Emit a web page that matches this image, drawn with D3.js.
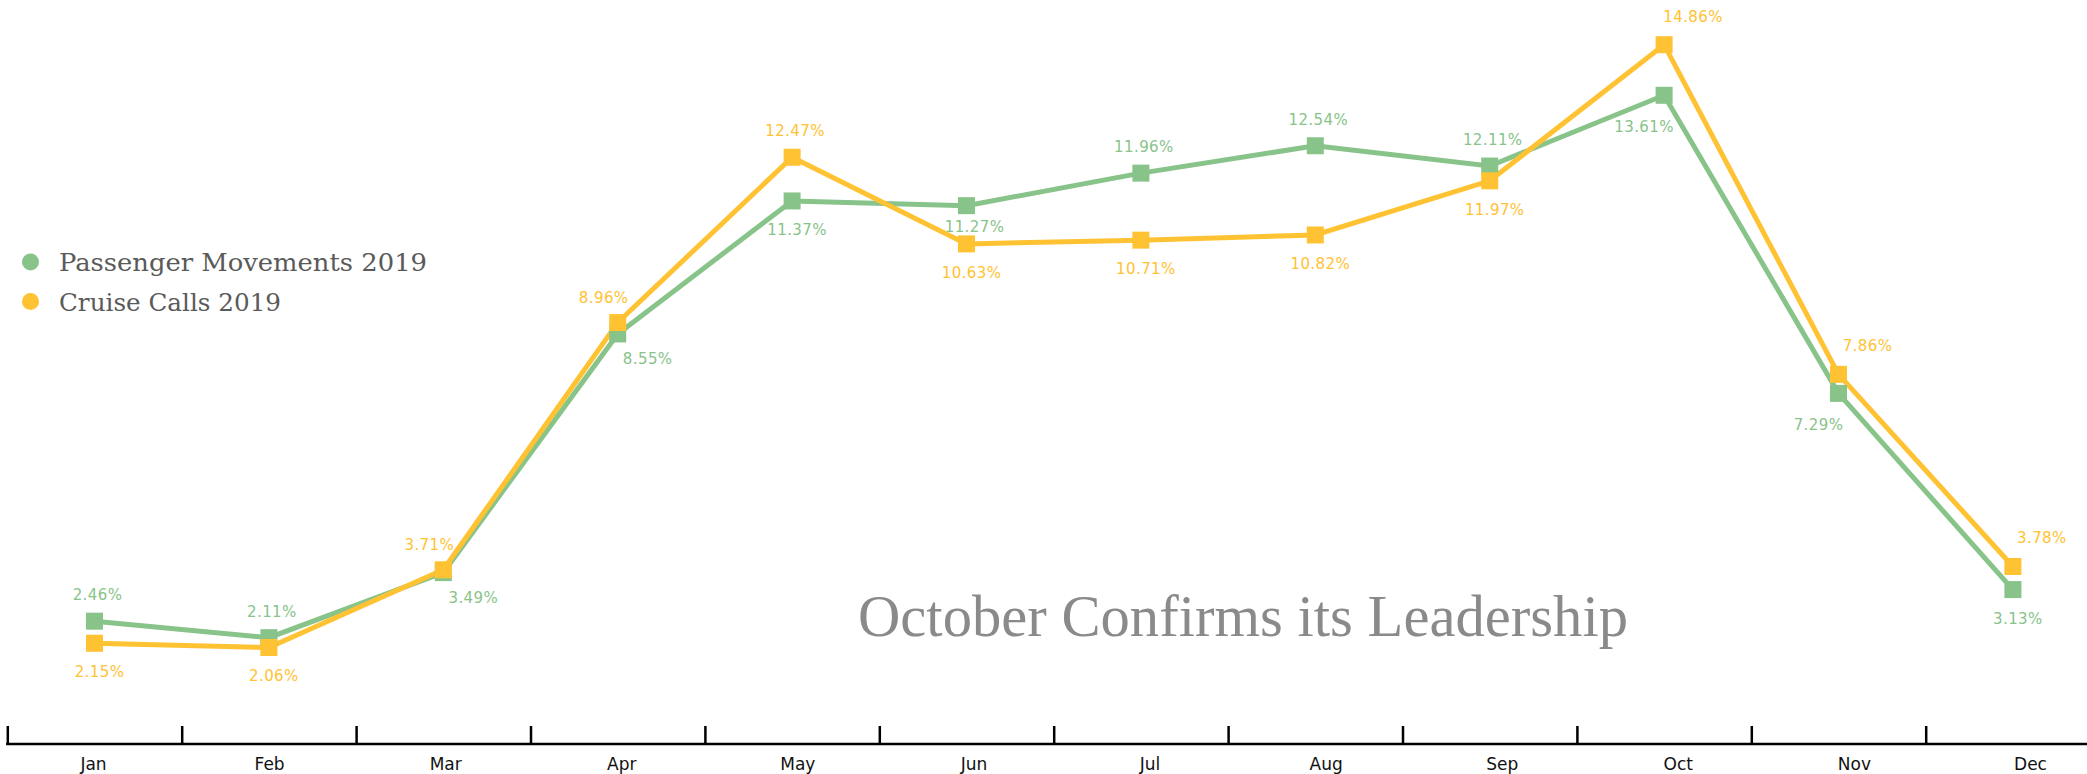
<!DOCTYPE html>
<html>
<head>
<meta charset="utf-8">
<script src="https://cdn.jsdelivr.net/npm/d3@7"></script>
<style>
  html, body { margin: 0; padding: 0; background: #ffffff; }
  svg { display: block; }
</style>
</head>
<body>
<svg id="chart" width="2087" height="774"></svg>
<script>
// ---- data ----
const months = ["Jan","Feb","Mar","Apr","May","Jun","Jul","Aug","Sep","Oct","Nov","Dec"];
const passengerMovements = [2.46, 2.11, 3.49, 8.55, 11.37, 11.27, 11.96, 12.54, 12.11, 13.61, 7.29, 3.13];
const cruiseCalls        = [2.15, 2.06, 3.71, 8.96, 12.47, 10.63, 10.71, 10.82, 11.97, 14.86, 7.86, 3.78];
const seriesNames = ["Passenger Movements 2019", "Cruise Calls 2019"];
const passengerLabelSide = ["a","a","br","br","b","bs","a","a","a","bl","bl","b"];
const cruiseLabelSide    = ["b","b","al","al","a","b","b","b","b","ar","ar","ar"];
const title = "October Confirms its Leadership";

// ---- styles ----
const GREEN = "#88C38A";
const ORANGE = "#FFC233";
const svg = d3.select("#chart");
const W = 2087, H = 774;

// ---- scales ----
const bandStart = 7.3, step = 174.4;
const x = d3.scaleBand().domain(months).range([bandStart, bandStart + step * months.length]).padding(0);
const xEdge = d3.scaleLinear().domain([0, months.length]).range([bandStart, bandStart + step * months.length]);
const xLabel = d3.scalePoint().domain(months).range([93, 2030]);
const cx = m => x(m) + x.bandwidth() / 2;

const yCruise = d3.scaleLinear().domain([0, d3.max(cruiseCalls)]).range([744.5, 44.7]);
const yPass = d3.scaleLinear().domain([0, d3.max(passengerMovements)]).range([737.2, 95.3]);

// ---- axis ----
const axisY = 744;
const gAxis = svg.append("g").attr("transform", `translate(0,${axisY})`);
gAxis.call(d3.axisBottom(xEdge).tickValues(d3.range(0, months.length + 1)).tickSize(-18).tickSizeOuter(0).tickFormat(""));
gAxis.select(".domain").remove();
gAxis.selectAll(".tick line").attr("stroke", "#000").attr("stroke-width", 2.5);
gAxis.append("line").attr("x1", bandStart - 1.2).attr("x2", W).attr("y1", 0).attr("y2", 0)
  .attr("stroke", "#000").attr("stroke-width", 2.5);

const gLab = svg.append("g").attr("transform", `translate(0,${axisY})`);
gLab.call(d3.axisBottom(xLabel).tickSize(0).tickPadding(14));
gLab.select(".domain").remove();
gLab.selectAll(".tick text")
  .attr("font-family", "'DejaVu Sans', sans-serif")
  .attr("font-size", 17)
  .attr("fill", "#111");

// ---- title ----
svg.append("text")
  .attr("x", 858).attr("y", 636)
  .attr("font-family", "'Liberation Serif', serif")
  .attr("font-size", 60)
  .attr("fill", "#8a8a8a")
  .attr("textLength", 770)
  .attr("lengthAdjust", "spacingAndGlyphs")
  .text(title);

// ---- series ----
const offsets = { a: [3, -26], b: [5, 29], bs: [8, 21], ar: [29, -28], al: [-14, -25], br: [30, 25], bl: [-20, 32] };

function drawSeries(values, yScale, color, sides) {
  const pts = values.map((v, i) => ({ m: months[i], v, side: sides[i] }));
  const line = d3.line().x(d => cx(d.m)).y(d => yScale(d.v));
  svg.append("path").datum(pts)
    .attr("d", line)
    .attr("fill", "none")
    .attr("stroke", color)
    .attr("stroke-width", 5)
    .attr("stroke-linejoin", "miter");
  return pts;
}
function drawMarkers(pts, yScale, color) {
  const s = 17;
  svg.append("g").selectAll("rect").data(pts).join("rect")
    .attr("x", d => cx(d.m) - s / 2)
    .attr("y", d => yScale(d.v) - s / 2)
    .attr("width", s).attr("height", s)
    .attr("fill", color);
}
function drawLabels(pts, yScale, color) {
  svg.append("g").selectAll("text").data(pts).join("text")
    .attr("x", d => cx(d.m) + offsets[d.side][0])
    .attr("y", d => yScale(d.v) + offsets[d.side][1])
    .attr("text-anchor", "middle")
    .attr("dominant-baseline", "central")
    .attr("font-family", "'DejaVu Sans', sans-serif")
    .attr("font-size", 15)
    .attr("letter-spacing", 0.4)
    .attr("fill", color)
    .text(d => d.v.toFixed(2) + "%");
}

const pPts = drawSeries(passengerMovements, yPass, GREEN, passengerLabelSide);
const cPts = drawSeries(cruiseCalls, yCruise, ORANGE, cruiseLabelSide);
drawMarkers(pPts, yPass, GREEN);
drawMarkers(cPts, yCruise, ORANGE);
drawLabels(pPts, yPass, GREEN);
drawLabels(cPts, yCruise, ORANGE);

// ---- legend ----
const legend = svg.append("g");
const legendItems = [
  { name: seriesNames[0], color: GREEN, len: 368 },
  { name: seriesNames[1], color: ORANGE, len: 222 }
];
legendItems.forEach((d, i) => {
  const yy = 262 + i * 39.5;
  legend.append("circle").attr("cx", 30.5).attr("cy", yy).attr("r", 8.5).attr("fill", d.color);
  legend.append("text")
    .attr("x", 59).attr("y", yy + 9)
    .attr("font-family", "'DejaVu Serif', serif")
    .attr("font-size", 25)
    .attr("fill", "#5a5a5a")
    .attr("textLength", d.len)
    .attr("lengthAdjust", "spacingAndGlyphs")
    .text(d.name);
});
</script>
</body>
</html>
